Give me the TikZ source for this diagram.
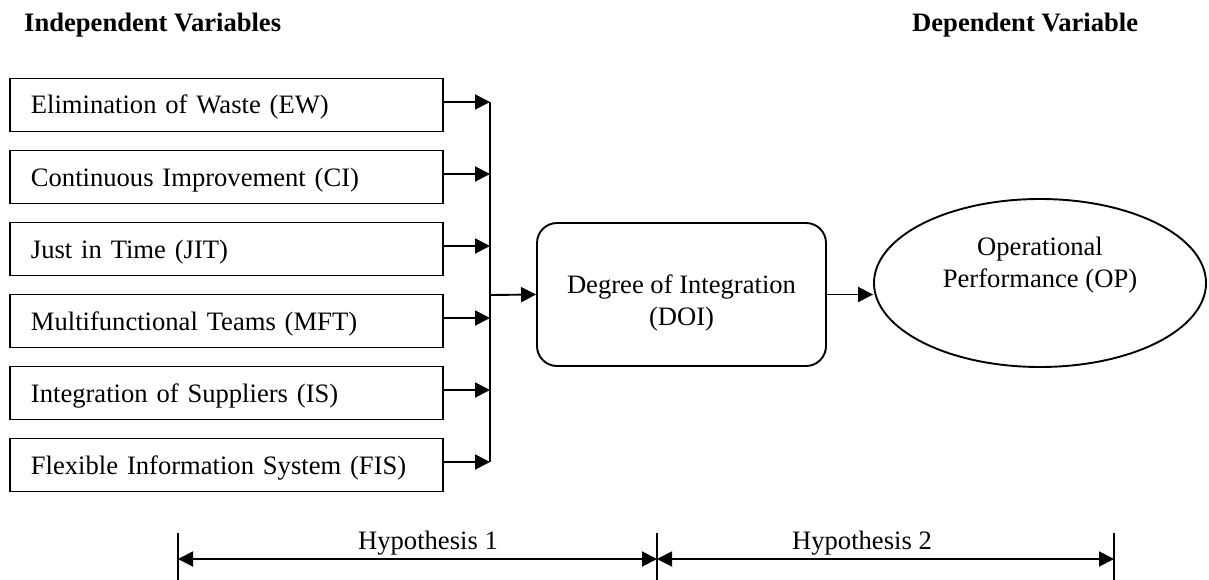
\documentclass[tikz,border=0pt]{standalone}
\usepackage{fontspec}
\setmainfont{Liberation Serif}
\usetikzlibrary{arrows.meta,shapes.geometric}
\begin{document}
\begin{tikzpicture}[x=1pt,y=-1pt,
  every node/.style={font=\fontsize{26.6}{32}\selectfont},
  line/.style={line width=1.9pt},
  arr/.style={line width=1.9pt,-{Triangle[length=15pt,width=15pt]}},
  dimarr/.style={line width=1.9pt,{Triangle[length=15pt,width=15pt]}-{Triangle[length=15pt,width=15pt]}},
  ivbox/.style={draw,line width=1.9pt,rectangle,minimum width=433pt,minimum height=53pt,
    text width=391pt,inner xsep=21pt,inner ysep=0pt,text height=20pt,text depth=2pt,align=left,anchor=west},
  header/.style={font=\fontsize{26.6}{32}\selectfont\bfseries,inner sep=0pt,anchor=base west},
  plain/.style={inner sep=0pt,anchor=base}
]
\useasboundingbox (0,0) rectangle (1209,580);

\node[header] (hIV) at (24,32) {Independent Variables};
\node[header] (hDV) at (912,32) {Dependent Variable};

\node[ivbox] (EW)  at (9,105) {Elimination of Waste (EW)};
\node[ivbox] (CI)  at (9,177) {Continuous Improvement (CI)};
\node[ivbox] (JIT) at (9,249) {Just in Time (JIT)};
\node[ivbox] (MFT) at (9,321) {Multifunctional Teams (MFT)};
\node[ivbox] (IS)  at (9,393) {Integration of Suppliers (IS)};
\node[ivbox] (FIS) at (9,465) {Flexible Information System (FIS)};

\coordinate (bus) at (490,295);

\foreach \b in {EW,CI,JIT,MFT,IS,FIS}{
  \draw[arr] ([yshift=3pt]\b.east) -- ([yshift=3pt]\b.east -| bus);
}
\draw[line] ([yshift=3pt]EW.east -| bus) -- ([yshift=3pt]FIS.east -| bus);

\node[draw,line width=1.9pt,rounded corners=20pt,minimum width=289pt,minimum height=143pt,inner sep=0pt,
  label={[align=center,yshift=-8pt]center:Degree of Integration\\(DOI)}] (DOI) at (681.5,294.5) {};

\node[draw,line width=1.9pt,ellipse,minimum width=332pt,minimum height=168pt,inner sep=0pt,
  label={[align=center,yshift=18pt]center:Operational\\Performance (OP)}] (OP) at (1040,283) {};

\draw[arr] (bus) -- (DOI.west);
\draw[arr] (DOI.east) -- (DOI.east -| OP.west);

\coordinate (h1) at (178,559);
\coordinate (h2) at (657,559);
\coordinate (h3) at (1114,559);
\coordinate (h1t) at (178,533); \coordinate (h1b) at (178,580);
\coordinate (h2t) at (657,533); \coordinate (h2b) at (657,580);
\coordinate (h3t) at (1114,533); \coordinate (h3b) at (1114,580);
\draw[line] (h1t) -- (h1b);
\draw[line] (h2t) -- (h2b);
\draw[line] (h3t) -- (h3b);
\draw[dimarr] (h1) -- (h2);
\draw[dimarr] (h2) -- (h3);
\node[plain] (H1) at (428,549) {Hypothesis 1};
\node[plain] (H2) at (862,549) {Hypothesis 2};
\end{tikzpicture}
\end{document}
